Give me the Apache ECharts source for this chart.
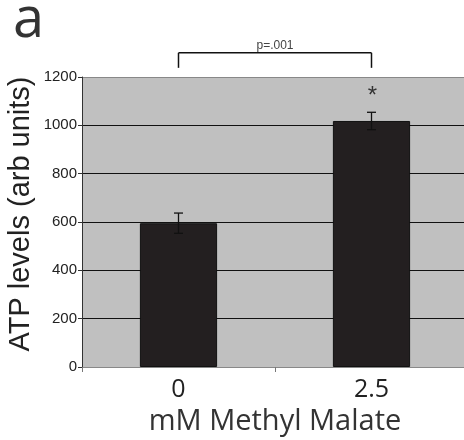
<!DOCTYPE html>
<html><head><meta charset="utf-8">
<script src="https://cdn.jsdelivr.net/npm/echarts@6/dist/echarts.min.js"></script>
<style>html,body{margin:0;padding:0;background:#fff}#c{width:464px;height:440px}</style>
</head><body><div id="c"></div>
<script>
const categories = ['0', '2.5'];
const atpMeans = [595, 1018];
const atpErrors = [42, 36];
const yTicks = [0, 200, 400, 600, 800, 1000, 1200];
const sigLabel = 'p=.001';
const sigLevel = 1300;

const chart = echarts.init(document.getElementById('c'), null, {renderer: 'canvas'});
const errData = categories.map((c, i) => [i, atpMeans[i] - atpErrors[i], atpMeans[i] + atpErrors[i]]);

chart.setOption({
  animation: false,
  grid: {left: 82, top: 77, right: -4, bottom: 73, show: true, backgroundColor: '#c0c0c0', borderWidth: 0,
         containLabel: false, outerBoundsMode: 'none'},
  graphic: [
    {type: 'text', left: 13, top: -7, style: {text: 'a', font: '56px "Open Sans"', fill: '#333'}},
    {type: 'text', x: 21, y: 214, rotation: Math.PI / 2,
     style: {text: 'ATP levels (arb units)', font: '29px "Liberation Sans"', fill: '#222', align: 'center', verticalAlign: 'middle'}}
  ],
  xAxis: {
    type: 'category', data: categories,
    axisLine: {lineStyle: {color: '#888', width: 1}},
    axisTick: {show: true, length: 5, lineStyle: {color: '#777'}},
    axisLabel: {fontSize: 25, fontFamily: 'Open Sans', color: '#222', margin: 10},
    name: 'mM Methyl Malate', nameLocation: 'middle', nameGap: 40,
    nameTextStyle: {fontSize: 29, fontFamily: 'Open Sans', color: '#333'}
  },
  yAxis: {
    type: 'value', min: yTicks[0], max: yTicks[yTicks.length - 1], interval: 200,
    axisLine: {show: true, lineStyle: {color: '#333', width: 1}},
    axisTick: {show: true, length: 4, lineStyle: {color: '#333'}},
    axisLabel: {fontSize: 15, fontFamily: 'Liberation Sans', color: '#222', margin: 5,
                formatter: function (v) { return String(v); }},
    splitLine: {show: true, lineStyle: {color: ['#888', '#111', '#111', '#111', '#111', '#111', '#888'], width: 1}}
  },
  series: [
    {type: 'bar', data: atpMeans, barWidth: '40%',
     itemStyle: {color: '#231f20', borderColor: '#111', borderWidth: 1}},
    {type: 'custom', data: errData, clip: false, z: 5,
     renderItem: function (params, api) {
       const x = api.value(0);
       const lo = api.coord([x, api.value(1)]);
       const hi = api.coord([x, api.value(2)]);
       const hw = 4.5;
       const st = {stroke: '#111', lineWidth: 1.3};
       return {type: 'group', children: [
         {type: 'line', shape: {x1: lo[0], y1: lo[1], x2: hi[0], y2: hi[1]}, style: st},
         {type: 'line', shape: {x1: lo[0] - hw, y1: lo[1], x2: lo[0] + hw, y2: lo[1]}, style: st},
         {type: 'line', shape: {x1: hi[0] - hw, y1: hi[1], x2: hi[0] + hw, y2: hi[1]}, style: st}
       ]};
     }},
    {type: 'custom', data: [[0, 1, sigLevel, atpMeans[1] + atpErrors[1]]], clip: false, z: 6,
     renderItem: function (params, api) {
       const a = api.coord([api.value(0), api.value(2)]);
       const b = api.coord([api.value(1), api.value(2)]);
       const star = api.coord([api.value(1), api.value(3)]);
       const st = {stroke: '#111', lineWidth: 1.5};
       return {type: 'group', children: [
         {type: 'line', shape: {x1: a[0], y1: a[1], x2: b[0], y2: b[1]}, style: st},
         {type: 'line', shape: {x1: a[0], y1: a[1], x2: a[0], y2: a[1] + 15}, style: st},
         {type: 'line', shape: {x1: b[0], y1: b[1], x2: b[0], y2: b[1] + 15}, style: st},
         {type: 'text', x: (a[0] + b[0]) / 2, y: a[1] - 1,
          style: {text: sigLabel, font: '12px "Liberation Sans"', fill: '#444', align: 'center', verticalAlign: 'bottom'}},
         {type: 'text', x: star[0] + 1, y: star[1] - 16,
          style: {text: '*', font: '24px "Liberation Sans"', fill: '#333', align: 'center', verticalAlign: 'middle'}}
       ]};
     }}
  ]
});
</script></body></html>
